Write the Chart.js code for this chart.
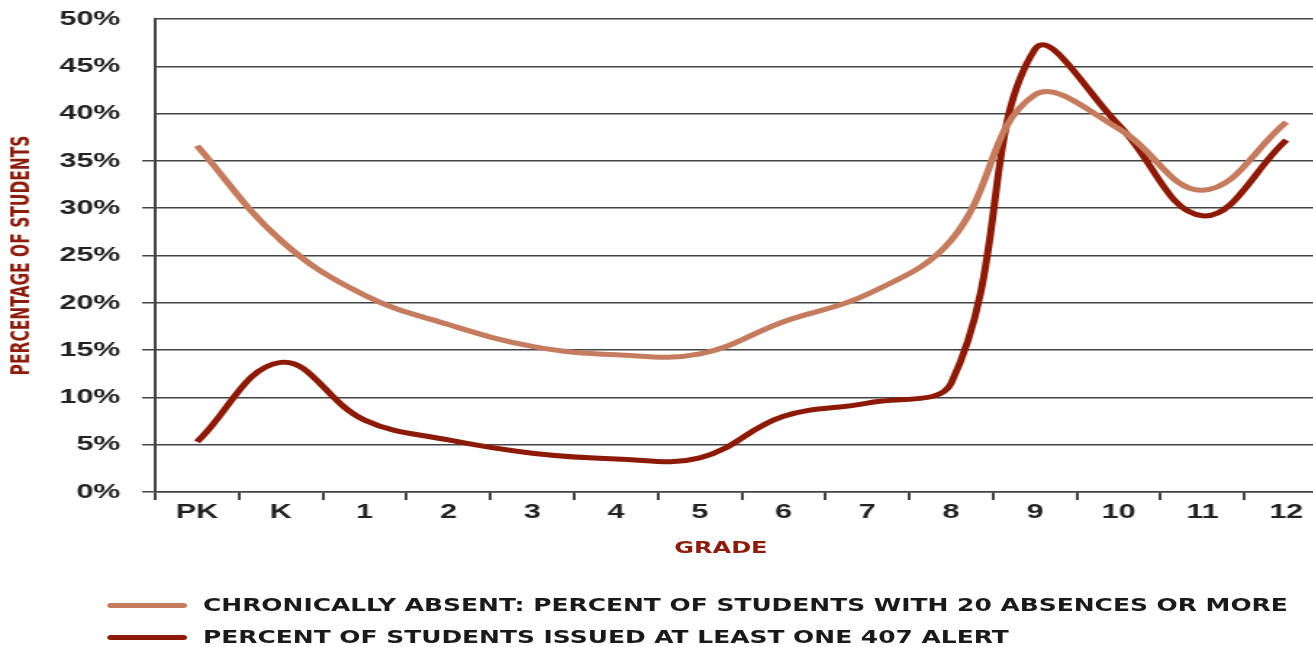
<!DOCTYPE html>
<html>
<head>
<meta charset="utf-8">
<script src="https://cdn.jsdelivr.net/npm/chart.js@4.4.1/dist/chart.umd.min.js"></script>
<style>
  html, body { margin: 0; padding: 0; overflow: hidden; background: #fff; }
  #wrap { position: absolute; left: 0; top: 0; width: 918px; height: 647px; transform: scaleX(1.45); transform-origin: 0 0; }
  .leg { position: absolute; left: 74px; height: 20px; display: flex; align-items: center; white-space: nowrap;
         font: bold 17.2px "DejaVu Sans", sans-serif; color: #1a1a1a; }
  .sw { width: 55px; height: 5px; border-radius: 3px; margin-right: 11px; }
  #grade { position: absolute; left: 465px; top: 538px; font: bold 16.6px "DejaVu Sans", sans-serif; color: #8c1c0c; white-space: nowrap; }
</style>
</head>
<body>
<div id="wrap">
  <canvas id="grafico" width="918" height="647"></canvas>
  <div id="grade">GRADE</div>
  <div class="leg" style="top:595px"><span class="sw" style="background:#c57b5d"></span><span id="leg1"></span></div>
  <div class="leg" style="top:627px"><span class="sw" style="background:#8c1a06"></span><span id="leg2"></span></div>
</div>
<script>
// dados (% de alunos por série)
const grades = ['PK', 'K', '1', '2', '3', '4', '5', '6', '7', '8', '9', '10', '11', '12']
const chronicAbsent = [36.6, 26.6, 20.8, 17.7, 15.4, 14.5, 14.6, 18.0, 20.9, 26.6, 42.0, 38.4, 31.9, 39.1]
const alert407 = [5.3, 13.7, 7.6, 5.5, 4.1, 3.5, 3.6, 8.0, 9.4, 11.5, 46.8, 38.8, 29.2, 37.2]
const yTicks = [0, 5, 10, 15, 20, 25, 30, 35, 40, 45, 50]
const seriesNames = [
  'CHRONICALLY ABSENT: PERCENT OF STUDENTS WITH 20 ABSENCES OR MORE',
  'PERCENT OF STUDENTS ISSUED AT LEAST ONE 407 ALERT'
]

document.getElementById('leg1').textContent = seriesNames[0]
document.getElementById('leg2').textContent = seriesNames[1]

const tickFont = { family: '"Liberation Sans", Arial, sans-serif', weight: 'bold', size: 21 }

const ctx = document.getElementById('grafico').getContext('2d')
const grafico = new Chart(ctx, {
  type: 'line',
  data: {
    labels: grades,
    datasets: [
      {
        label: seriesNames[0],
        data: chronicAbsent,
        borderColor: '#c57b5d',
        borderWidth: 5,
        pointRadius: 0,
        tension: 0.4,
        fill: false
      },
      {
        label: seriesNames[1],
        data: alert407,
        borderColor: '#8c1a06',
        borderWidth: 5,
        pointRadius: 0,
        tension: 0.4,
        fill: false
      }
    ]
  },
  options: {
    responsive: false,
    animation: false,
    layout: { padding: { top: 19, right: 2, left: 0, bottom: 0 } },
    plugins: {
      legend: { display: false },
      tooltip: { enabled: false },
      title: { display: false }
    },
    scales: {
      x: {
        offset: true,
        grid: { offset: true, drawOnChartArea: false, tickLength: 8, tickColor: '#444', lineWidth: 2 },
        border: { color: '#444', width: 1.5 },
        ticks: { font: tickFont, color: '#222', padding: 0, maxRotation: 0, autoSkip: false },
        afterFit: (s) => { s.height = 155 }
      },
      y: {
        min: 0,
        max: 50,
        afterBuildTicks: (s) => { s.ticks = yTicks.map(v => ({ value: v })) },
        grid: {
          color: '#444',
          lineWidth: 1.5,
          tickLength: 9,
          tickColor: (c) => (c.tick && c.tick.value >= 40 ? 'rgba(0,0,0,0)' : '#444')
        },
        border: { color: '#444', width: 2 },
        ticks: { font: tickFont, color: '#222', padding: 15, callback: (v) => v + '%' },
        title: {
          display: true,
          text: 'PERCENTAGE OF STUDENTS',
          color: '#8c1c0c',
          font: { family: '"Liberation Sans Narrow", "DejaVu Sans Condensed", sans-serif', weight: 'bold', size: 17.2 },
          padding: { top: 5, bottom: 4 }
        },
        afterFit: (s) => {
          s.width = 107
          s.paddingTop = 0
          s.paddingBottom = 0
        }
      }
    }
  }
})
</script>
</body>
</html>
